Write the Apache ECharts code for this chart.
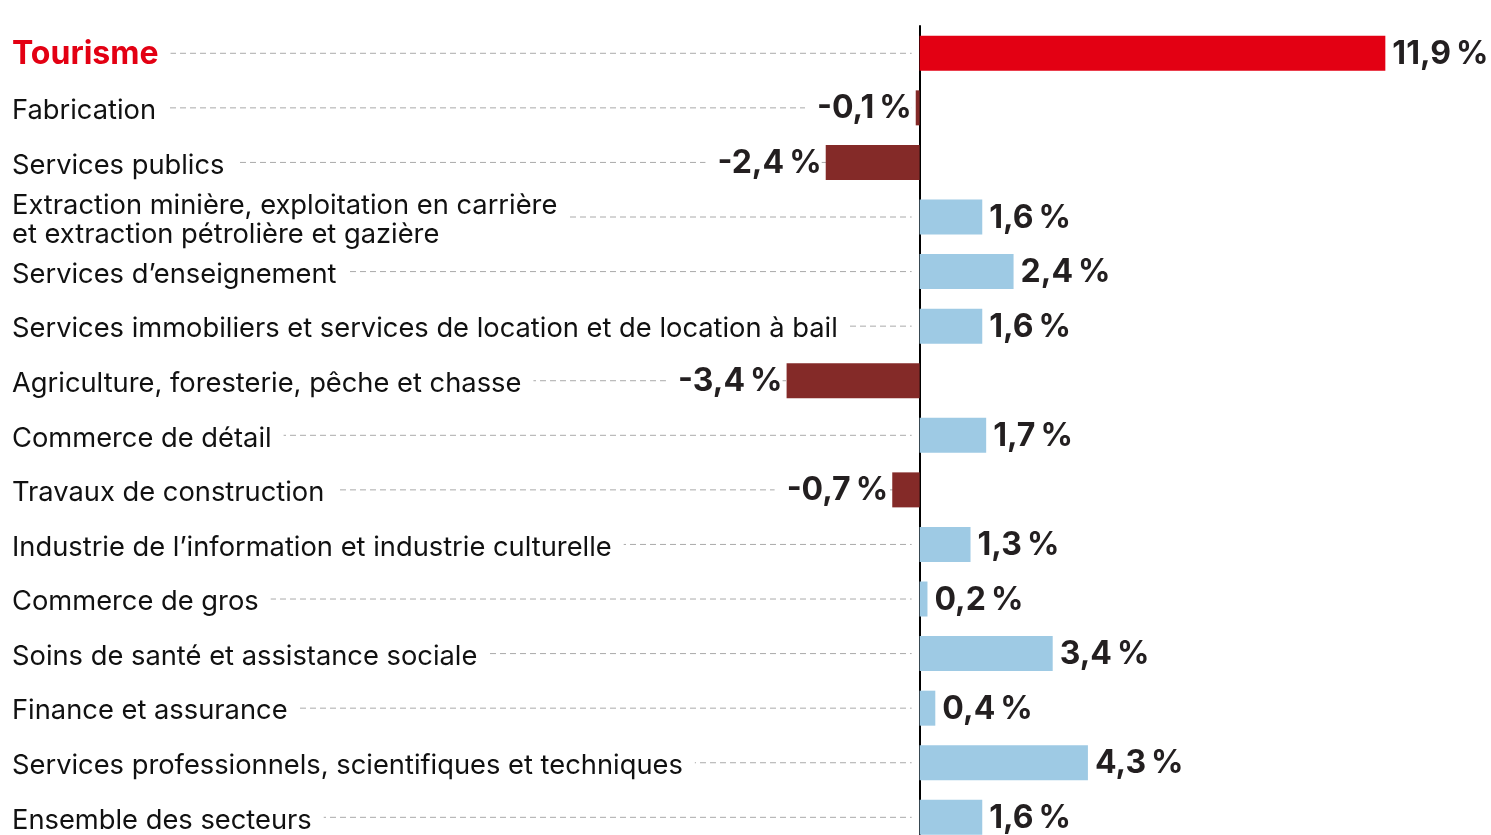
<!DOCTYPE html>
<html><head><meta charset="utf-8">
<script src="https://cdn.jsdelivr.net/npm/echarts@6/dist/echarts.min.js"></script>
<style>html,body{margin:0;padding:0;background:#fff}#c{width:1491px;height:835px}</style>
</head><body><div id="c"></div>
<script>
const categories = [
  'Tourisme',
  'Fabrication',
  'Services publics',
  'Extraction minière, exploitation en carrière\net extraction pétrolière et gazière',
  'Services d’enseignement',
  'Services immobiliers et services de location et de location à bail',
  'Agriculture, foresterie, pêche et chasse',
  'Commerce de détail',
  'Travaux de construction',
  'Industrie de l’information et industrie culturelle',
  'Commerce de gros',
  'Soins de santé et assistance sociale',
  'Finance et assurance',
  'Services professionnels, scientifiques et techniques',
  'Ensemble des secteurs'
];
const values = [11.9, -0.1, -2.4, 1.6, 2.4, 1.6, -3.4, 1.7, -0.7, 1.3, 0.2, 3.4, 0.4, 4.3, 1.6];
const highlight = 'Tourisme';

const RED = '#e30013', NEG = '#842a28', POS = '#9ecae4';
const FONT = 'Inter, "Noto Sans", sans-serif';
const fmt = v => v.toFixed(1).replace('.', ',') + '\u202f%';

const chart = echarts.init(document.getElementById('c'), null, {renderer: 'canvas'});
chart.setOption({
  animation: false,
  grid: {left: 0, top: 26, width: 1491, height: 818.6, containLabel: false, outerBoundsMode: 'none'},
  xAxis: {type: 'value', min: -23.5, max: 14.6, show: false},
  yAxis: {
    type: 'category', data: categories, inverse: true,
    axisLine: {show: true, onZero: true, lineStyle: {color: '#000', width: 2}},
    axisTick: {show: false}, axisLabel: {show: false}, splitLine: {show: false}
  },
  series: [
    {
      type: 'custom', z: 1, silent: true,
      encode: {x: 0, y: 1},
      data: categories.map((c, i) => [0, i]),
      renderItem: function (params, api) {
        const i = api.value(1);
        const p = api.coord([0, i]);
        const hl = categories[i] === highlight;
        return {
          type: 'group',
          children: [
            {type: 'line', shape: {x1: 20, y1: p[1], x2: p[0] - 8, y2: p[1]},
             style: {stroke: '#aaaaaa', lineWidth: 1, lineDash: [6, 4]}},
            {type: 'text', x: 12, y: p[1] + (hl ? 1 : 3),
             style: {
               text: categories[i], fill: hl ? RED : '#111',
               font: (hl ? 'bold 32px ' : '27.3px ') + FONT,
               lineHeight: 29,
               verticalAlign: 'middle', align: 'left',
               backgroundColor: '#fff', padding: [0, 12, 0, 0]
             }}
          ]
        };
      }
    },
    {
      type: 'bar', z: 2, barWidth: 35,
      data: values.map((v, i) => ({
        value: v,
        itemStyle: {color: categories[i] === highlight ? RED : (v < 0 ? NEG : POS)},
        label: v < 0
          ? {position: 'left', distance: 4, padding: [0, 0, 0, 12]}
          : {position: 'right', distance: 7, padding: 0}
      })),
      label: {
        show: true,
        formatter: p => fmt(p.value),
        color: '#231f20', fontFamily: FONT, fontWeight: 'bold', fontSize: 32,
        backgroundColor: '#fff', offset: [0, 1]
      }
    }
  ]
});
</script></body></html>
